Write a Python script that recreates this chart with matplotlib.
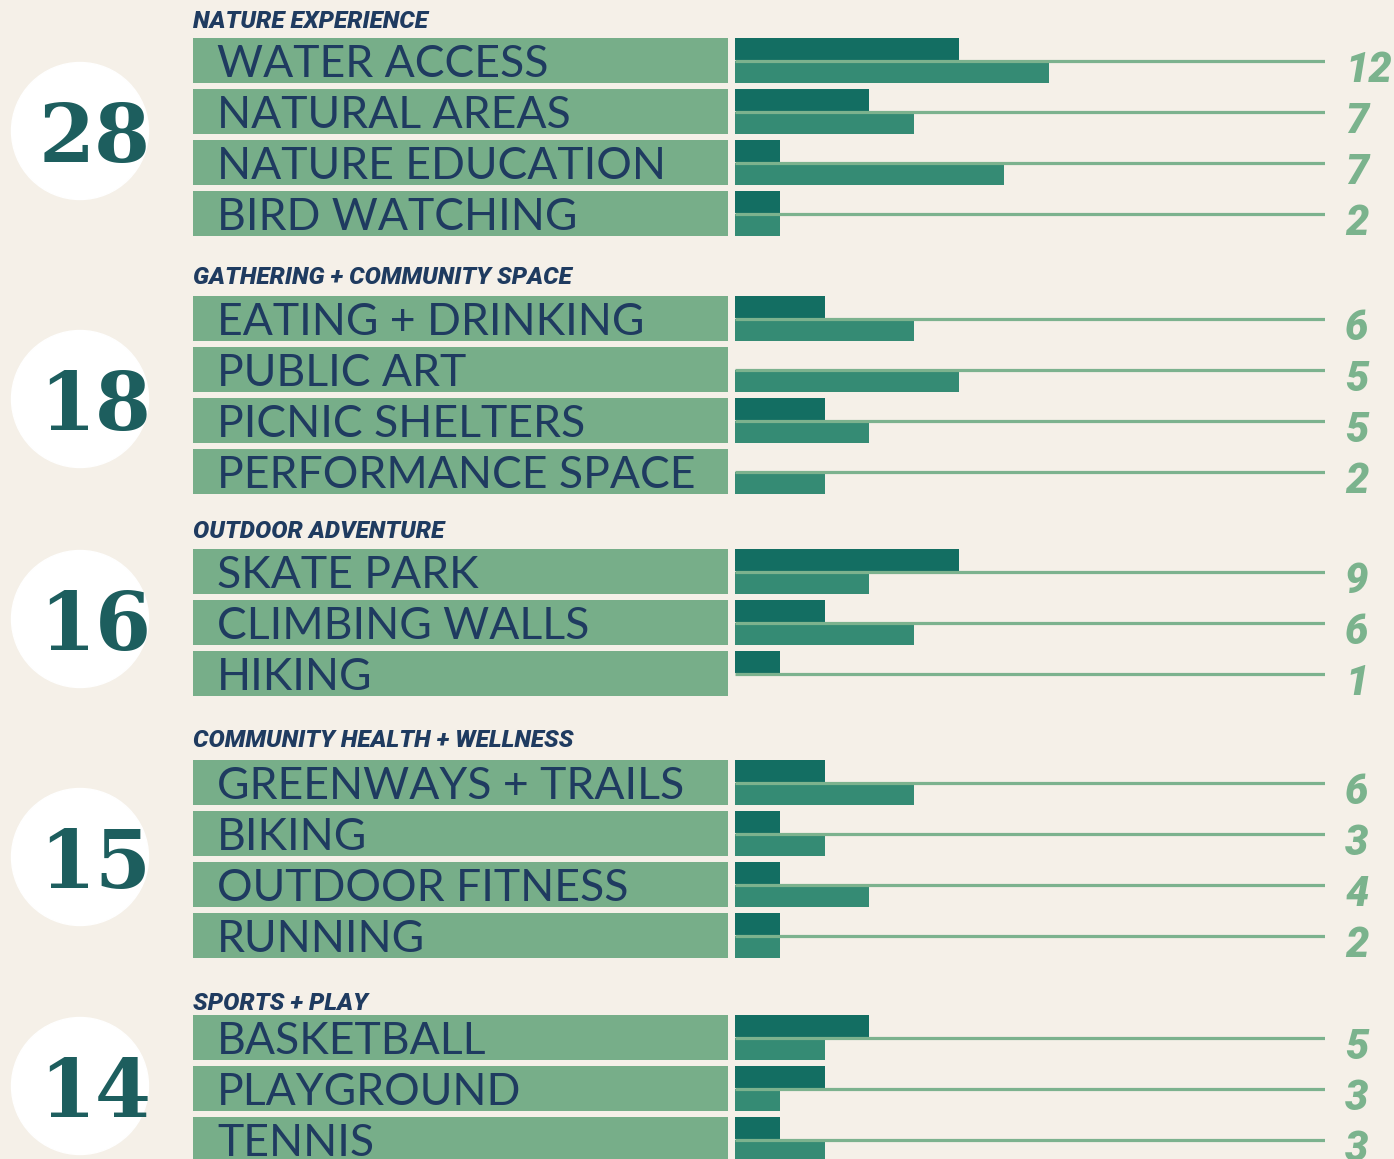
import matplotlib
matplotlib.use('Agg')
import matplotlib.pyplot as plt
from matplotlib.patches import Circle

plt.rcParams['font.family'] = ['Lato', 'DejaVu Sans']

# data
groups = ['NATURE EXPERIENCE', 'GATHERING + COMMUNITY SPACE', 'OUTDOOR ADVENTURE',
          'COMMUNITY HEALTH + WELLNESS', 'SPORTS + PLAY']
group_totals = [28, 18, 16, 15, 14]
group_sizes = [4, 4, 3, 4, 3]

items = ['WATER ACCESS', 'NATURAL AREAS', 'NATURE EDUCATION', 'BIRD WATCHING',
         'EATING + DRINKING', 'PUBLIC ART', 'PICNIC SHELTERS', 'PERFORMANCE SPACE',
         'SKATE PARK', 'CLIMBING WALLS', 'HIKING',
         'GREENWAYS + TRAILS', 'BIKING', 'OUTDOOR FITNESS', 'RUNNING',
         'BASKETBALL', 'PLAYGROUND', 'TENNIS']
top_vals = [5, 3, 1, 1, 2, 0, 2, 0, 5, 2, 1, 2, 1, 1, 1, 3, 2, 1]
bottom_vals = [7, 4, 6, 1, 4, 5, 3, 2, 3, 4, 0, 4, 2, 3, 1, 2, 1, 2]
item_totals = [12, 7, 7, 2, 6, 5, 5, 2, 9, 6, 1, 6, 3, 4, 2, 5, 3, 3]

# colours
BG = '#F5F0E8'
BOX = '#77AE89'
NAVY = '#1F3B60'
DARK = '#136E62'
MID = '#358B74'
LINE = '#7CB28E'
NUM = '#7BB38D'
CIRC_TXT = '#1D5E5E'

# layout (pixels)
W, H = 1394, 1159
group_top = [38, 296, 549, 760, 1015]
header_base = [28, 284, 538, 747, 1010]
circle_y = [131, 399, 619, 857, 1086]
pitch, row_h = 51, 45
bar_x0, bar_x1, unit = 735, 1325, 44.8

row_tops = []
for g, n in enumerate(group_sizes):
    for i in range(n):
        row_tops.append(group_top[g] + i * pitch)

fig = plt.figure(figsize=(W / 100, H / 100), dpi=100)
fig.patch.set_facecolor(BG)

# background axes in pixel coordinates
ax = fig.add_axes([0, 0, 1, 1])
ax.set_xlim(0, W)
ax.set_ylim(H, 0)
ax.axis('off')

# bar axes, x in value units
axb = fig.add_axes([bar_x0 / W, 0, (bar_x1 - bar_x0) / W, 1])
axb.set_xlim(0, (bar_x1 - bar_x0) / unit)
axb.set_ylim(H, 0)
axb.axis('off')
axb.patch.set_alpha(0)

heavy = ['Roboto', 'DejaVu Sans']

# group headers + circles
for g, name in enumerate(groups):
    ax.text(193, header_base[g], name, fontsize=17.5, fontweight='black', family=heavy,
            style='italic', color=NAVY, ha='left', va='baseline')
    ax.add_patch(Circle((80, circle_y[g]), 68.5, color='white', zorder=1))
    ax.text(95, circle_y[g] + 31, str(group_totals[g]), fontsize=58,
            family='DejaVu Serif', fontweight='bold', color=CIRC_TXT,
            ha='center', va='baseline', zorder=2)

# label boxes
centers = [t + row_h / 2 for t in row_tops]
ax.barh(centers, [728 - 193] * len(items), left=193, height=row_h, color=BOX, zorder=1)
for t, name, tot in zip(row_tops, items, item_totals):
    ax.text(217, t + 39, name, fontsize=32, color=NAVY, ha='left', va='baseline', zorder=2)
    ax.text(1345, t + row_h - 1, str(tot), fontsize=30, fontweight='black', style='italic',
            family=heavy, color=NUM, ha='left', va='baseline')

# bars
axb.barh([t + 11 for t in row_tops], top_vals, height=22, color=DARK, zorder=2)
axb.barh([t + 34 for t in row_tops], bottom_vals, height=22, color=MID, zorder=2)
axb.hlines([t + 22.5 for t in row_tops], 0, (bar_x1 - bar_x0) / unit,
           color=LINE, linewidth=2.3, zorder=3)

plt.savefig('out.png', dpi=100, facecolor=BG)
